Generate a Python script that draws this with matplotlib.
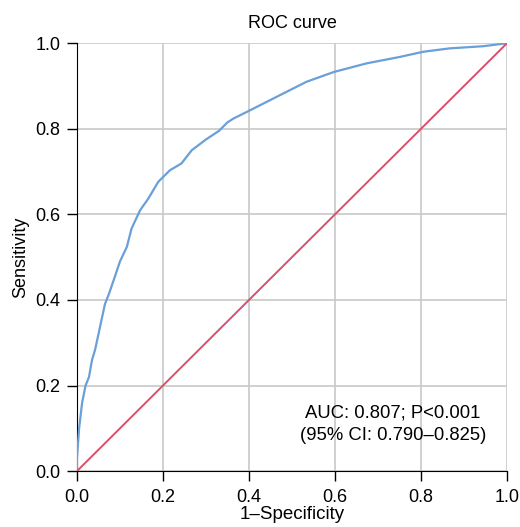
import matplotlib.pyplot as plt

plt.rcParams['font.family'] = ['Liberation Sans', 'DejaVu Sans']

# ROC curve points
fpr = [0.0, 0.0, 0.005, 0.012, 0.02, 0.028, 0.035, 0.042, 0.05, 0.057, 0.065,
       0.075, 0.088, 0.1, 0.116, 0.127, 0.147, 0.166, 0.189, 0.216, 0.243,
       0.267, 0.3, 0.33, 0.35, 0.364, 0.402, 0.457, 0.534, 0.598, 0.674,
       0.751, 0.805, 0.867, 0.945, 1.0]
tpr = [0.0, 0.03, 0.1, 0.16, 0.2, 0.22, 0.26, 0.283, 0.32, 0.353, 0.39,
       0.416, 0.454, 0.49, 0.524, 0.567, 0.61, 0.637, 0.676, 0.703, 0.719,
       0.75, 0.775, 0.795, 0.815, 0.824, 0.843, 0.871, 0.91, 0.933, 0.953,
       0.968, 0.98, 0.988, 0.993, 1.0]
ref_line = [0.0, 1.0]
ticks = [0.0, 0.2, 0.4, 0.6, 0.8, 1.0]

fig = plt.figure(figsize=(5.2, 5.27), dpi=100)
ax = fig.add_axes([0.148, 0.106, 0.827, 0.812])

ax.plot(fpr, tpr, color='#6a9fd8', lw=1.6, zorder=3)
ax.plot(ref_line, ref_line, color='#d9506e', lw=1.4, zorder=3)

ax.set_xlim(0, 1)
ax.set_ylim(0, 1)
ax.set_xticks(ticks)
ax.set_yticks(ticks)
ax.set_xticklabels([f'{t:.1f}' for t in ticks])
ax.set_yticklabels([f'{t:.1f}' for t in ticks])
ax.grid(True, color='#c8c8c8', lw=1.2)
ax.set_axisbelow(True)
for s in ['top', 'right']:
    ax.spines[s].set_visible(False)
ax.tick_params(direction='out', length=7, width=1, labelsize=13, pad=5)
ax.tick_params(axis='x', pad=6)

ax.set_title('ROC curve', fontsize=13, pad=11)
ax.set_xlabel('1\u2013Specificity', fontsize=13.5, labelpad=0)
ax.set_ylabel('Sensitivity', fontsize=13, labelpad=4)
ax.text(0.735, 0.11, 'AUC: 0.807; P<0.001\n(95% CI: 0.790\u20130.825)',
        ha='center', va='center', fontsize=13.3, linespacing=1.45)

fig.savefig('out.png', dpi=100)
